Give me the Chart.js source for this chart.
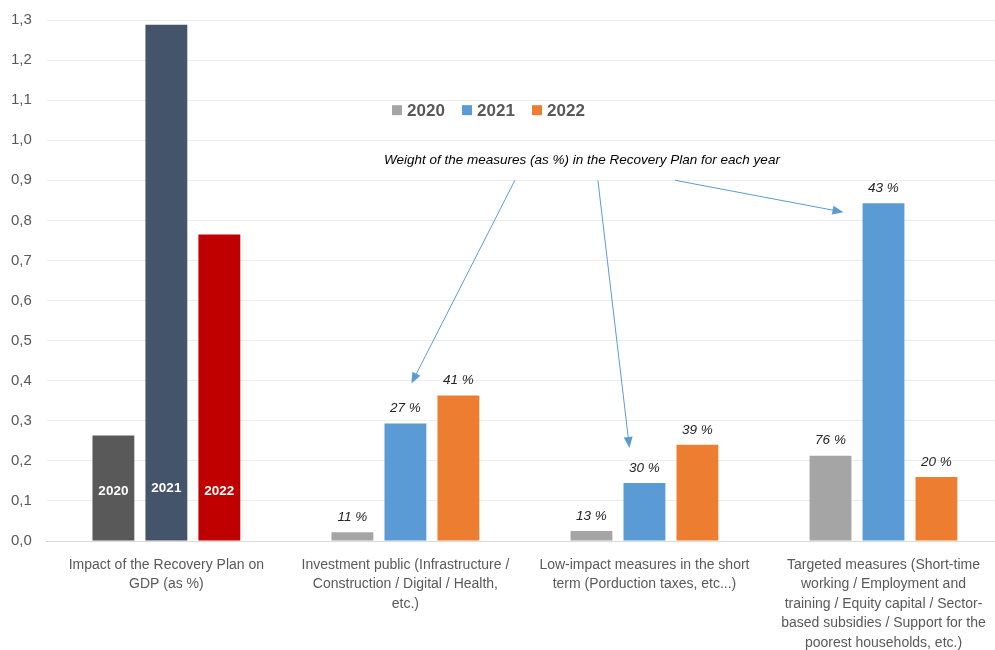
<!DOCTYPE html>
<html>
<head>
<meta charset="utf-8">
<script src="https://cdn.jsdelivr.net/npm/chart.js@4/dist/chart.umd.min.js"></script>
<style>
    body { margin: 0; background: #fff; }
    #wrap { width: 995px; height: 650px; overflow: hidden; }
</style>
</head>
<body>
<div id="wrap"><canvas id="bar_chart" width="1003" height="650"></canvas></div>
<script>
// chart data
var categories = [
    ["Impact of the Recovery Plan on", "GDP (as %)"],
    ["Investment public (Infrastructure /", "Construction / Digital / Health,", "etc.)"],
    ["Low-impact measures in the short", "term (Porduction taxes, etc...)"],
    ["Targeted measures (Short-time", "working / Employment and", "training / Equity capital / Sector-", "based subsidies / Support for the", "poorest households, etc.)"]
];
var years = ["2020", "2021", "2022"];
var values2020 = [0.263, 0.022, 0.025, 0.213];
var values2021 = [1.288, 0.293, 0.145, 0.843];
var values2022 = [0.765, 0.363, 0.240, 0.160];
// weight of each measure in the plan (%)
var share2020 = [null, 11, 13, 76];
var share2021 = [null, 27, 30, 43];
var share2022 = [null, 41, 39, 20];
var yTicks = [0, 0.1, 0.2, 0.3, 0.4, 0.5, 0.6, 0.7, 0.8, 0.9, 1.0, 1.1, 1.2, 1.3];

var mainColors = ['#A5A5A5', '#5B9BD5', '#ED7D31'];
var gdpColors = ['#595959', '#44546A', '#C00000'];
var FONT = "'Liberation Sans', Arial, sans-serif";

function barColors(i) {
    return categories.map(function (c, j) { return j === 0 ? gdpColors[i] : mainColors[i]; });
}

function drawArrow(ctx, x1, y1, x2, y2) {
    var a = Math.atan2(y2 - y1, x2 - x1);
    ctx.save();
    ctx.strokeStyle = '#5B9BD5';
    ctx.fillStyle = '#5B9BD5';
    ctx.lineWidth = 1;
    ctx.beginPath();
    ctx.moveTo(x1, y1);
    ctx.lineTo(x2 - 8 * Math.cos(a), y2 - 8 * Math.sin(a));
    ctx.stroke();
    ctx.beginPath();
    ctx.moveTo(x2, y2);
    ctx.lineTo(x2 - 11 * Math.cos(a) + 4.5 * Math.sin(a), y2 - 11 * Math.sin(a) - 4.5 * Math.cos(a));
    ctx.lineTo(x2 - 11 * Math.cos(a) - 4.5 * Math.sin(a), y2 - 11 * Math.sin(a) + 4.5 * Math.cos(a));
    ctx.closePath();
    ctx.fill();
    ctx.restore();
}

var extrasPlugin = {
    id: 'extras',
    afterDatasetsDraw: function (chart) {
        var ctx = chart.ctx;
        var area = chart.chartArea;
        var ys = chart.scales.y;
        var shares = [share2020, share2021, share2022];
        ctx.save();
        ctx.textAlign = 'center';
        ctx.textBaseline = 'middle';

        // labels on bars
        chart.data.datasets.forEach(function (ds, i) {
            chart.getDatasetMeta(i).data.forEach(function (bar, j) {
                if (j === 0) {
                    ctx.font = 'bold 13.5px ' + FONT;
                    ctx.fillStyle = '#FFFFFF';
                    ctx.fillText(years[i], bar.x, ys.getPixelForValue(0) - (i === 1 ? 53 : 50));
                } else if (shares[i][j] !== null) {
                    ctx.font = 'italic 13.5px ' + FONT;
                    ctx.fillStyle = '#262626';
                    ctx.fillText(shares[i][j] + ' %', bar.x, bar.y - 15);
                }
            });
        });

        // legend
        var lx = area.left + area.width * 0.361;
        var ly = ys.getPixelForValue(1.075);
        ctx.font = 'bold 17px ' + FONT;
        ctx.textAlign = 'left';
        years.forEach(function (yr, i) {
            ctx.fillStyle = mainColors[i];
            ctx.fillRect(lx, ly - 5, 10, 10);
            ctx.fillStyle = '#595959';
            ctx.fillText(yr, lx + 15, ly + 1);
            lx += 70;
        });

        // annotation text + arrows
        var tx = area.left + area.width * 0.5596;
        var ty = ys.getPixelForValue(0.95);
        ctx.font = 'italic 13.5px ' + FONT;
        ctx.fillStyle = '#000000';
        ctx.textAlign = 'center';
        ctx.fillText('Weight of the measures (as %) in the Recovery Plan for each year', tx, ty);
        var m = chart.getDatasetMeta(1).data;
        drawArrow(ctx, tx - 67, ty + 20, m[1].x + 6, m[1].y - 40);
        drawArrow(ctx, tx + 16, ty + 20, m[2].x - 15, m[2].y - 35);
        drawArrow(ctx, tx + 93, ty + 20, m[3].x - 40, m[3].y + 9);
        ctx.restore();
    }
};

new Chart(document.getElementById("bar_chart").getContext("2d"), {
    type: 'bar',
    data: {
        labels: categories,
        datasets: [{
            label: years[0],
            data: values2020,
            backgroundColor: barColors(0)
        }, {
            label: years[1],
            data: values2021,
            backgroundColor: barColors(1)
        }, {
            label: years[2],
            data: values2022,
            backgroundColor: barColors(2)
        }]
    },
    options: {
        responsive: false,
        animation: false,
        categoryPercentage: 0.665,
        barPercentage: 0.79,
        layout: { padding: { top: 0, left: -4, right: 0, bottom: -9 } },
        plugins: {
            legend: { display: false },
            tooltip: { enabled: false }
        },
        scales: {
            x: {
                grid: { display: false },
                border: { color: '#D9D9D9' },
                ticks: {
                    color: '#595959',
                    font: { family: FONT, size: 14, lineHeight: 1.4 },
                    padding: 6,
                    maxRotation: 0,
                    autoSkip: false
                }
            },
            y: {
                min: 0,
                max: 1.3,
                afterBuildTicks: function (axis) {
                    axis.ticks = yTicks.map(function (v) { return { value: v }; });
                },
                afterFit: function (axis) {
                    axis.paddingTop = 20;
                },
                grid: { color: '#EDEDED', drawTicks: false },
                border: { display: false },
                ticks: {
                    color: '#595959',
                    font: { family: FONT, size: 15 },
                    padding: 15,
                    callback: function (v) { return v.toFixed(1).replace('.', ','); }
                }
            }
        }
    },
    plugins: [extrasPlugin]
});
</script>
</body>
</html>
